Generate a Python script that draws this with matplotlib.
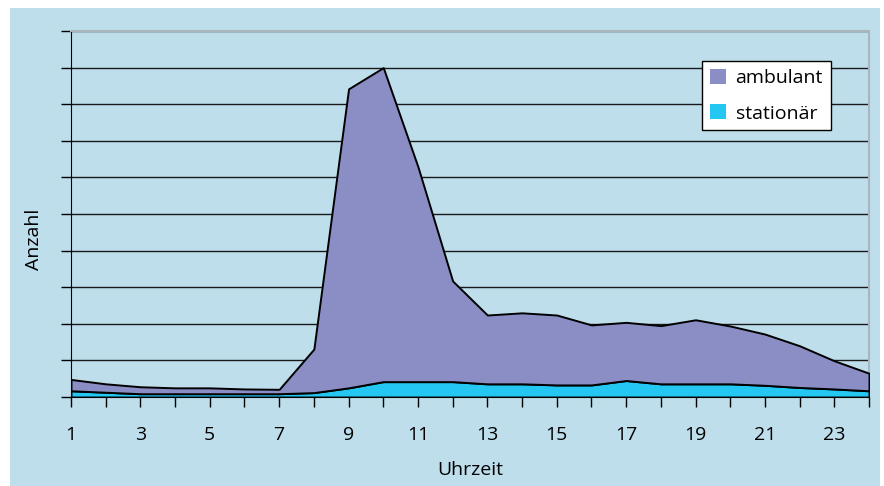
import matplotlib.pyplot as plt
from matplotlib.patches import Rectangle

plt.rcParams["font.family"] = ["Open Sans", "DejaVu Sans"]

# Uhrzeit 1..24, Anzahl (one gridline = 10)
hours = list(range(1, 25))
ambulant = [3.1, 2.3, 1.9, 1.6, 1.6, 1.3, 1.2, 11.9, 81.7, 85.8, 58.7, 27.5,
            18.8, 19.4, 19.1, 16.4, 15.9, 15.9, 17.5, 15.8, 14.0, 11.4, 7.7, 4.8]
stationaer = [1.7, 1.3, 0.9, 0.9, 0.9, 0.9, 0.9, 1.2, 2.5, 4.2, 4.2, 4.2,
              3.6, 3.6, 3.3, 3.3, 4.5, 3.6, 3.6, 3.6, 3.2, 2.6, 2.2, 1.7]
labels = ["stationär", "ambulant"]

bg = "#bedeec"
col_amb = "#8a8ec4"
col_sta = "#24c6f2"

fig = plt.figure(figsize=(8.84, 4.86), dpi=100, facecolor="white")
fig.patches.append(Rectangle((10 / 884, 0), 870 / 884, 478 / 486,
                             transform=fig.transFigure, facecolor=bg,
                             edgecolor="none", zorder=-10))

ax = fig.add_axes([71 / 884, 89 / 486, 798 / 884, 366 / 486])
ax.set_facecolor(bg)

ax.stackplot(hours, stationaer, ambulant, labels=labels,
             colors=[col_sta, col_amb], edgecolor="black",
             linewidth=1.4, zorder=3)

ax.set_xlim(1, 24)
ax.set_ylim(0, 100)
ax.set_yticks(range(0, 101, 10))
ax.set_yticklabels([])
ax.set_xticks(hours)
ax.set_xticklabels([str(h) if h % 2 else "" for h in hours], fontsize=14)
ax.tick_params(axis="x", length=7, width=1, pad=14)
ax.tick_params(axis="y", length=7, width=1)
ax.yaxis.grid(True, color="#1a1a1a", linewidth=1)
ax.set_axisbelow(True)

for side in ["top", "right"]:
    ax.spines[side].set_color("#a9b6be")
    ax.spines[side].set_linewidth(1.5)
ax.spines["left"].set_color("black")
ax.spines["bottom"].set_color("black")

ax.set_xlabel("Uhrzeit", fontsize=14, labelpad=12)
ax.set_ylabel("Anzahl", fontsize=14)
ax.yaxis.set_label_coords(-0.035, 0.43)

handles, lbls = ax.get_legend_handles_labels()
leg = ax.legend(handles[::-1], lbls[::-1], loc="upper right",
                bbox_to_anchor=(0.952, 0.918), borderaxespad=0,
                fancybox=False, framealpha=1, edgecolor="black",
                fontsize=14, handlelength=0.8, handleheight=0.8,
                handletextpad=0.5, labelspacing=0.9, borderpad=0.4)
leg.get_frame().set_linewidth(1)
for h in leg.legend_handles:
    h.set_edgecolor("none")

fig.savefig("out.png", dpi=100, facecolor="white")
